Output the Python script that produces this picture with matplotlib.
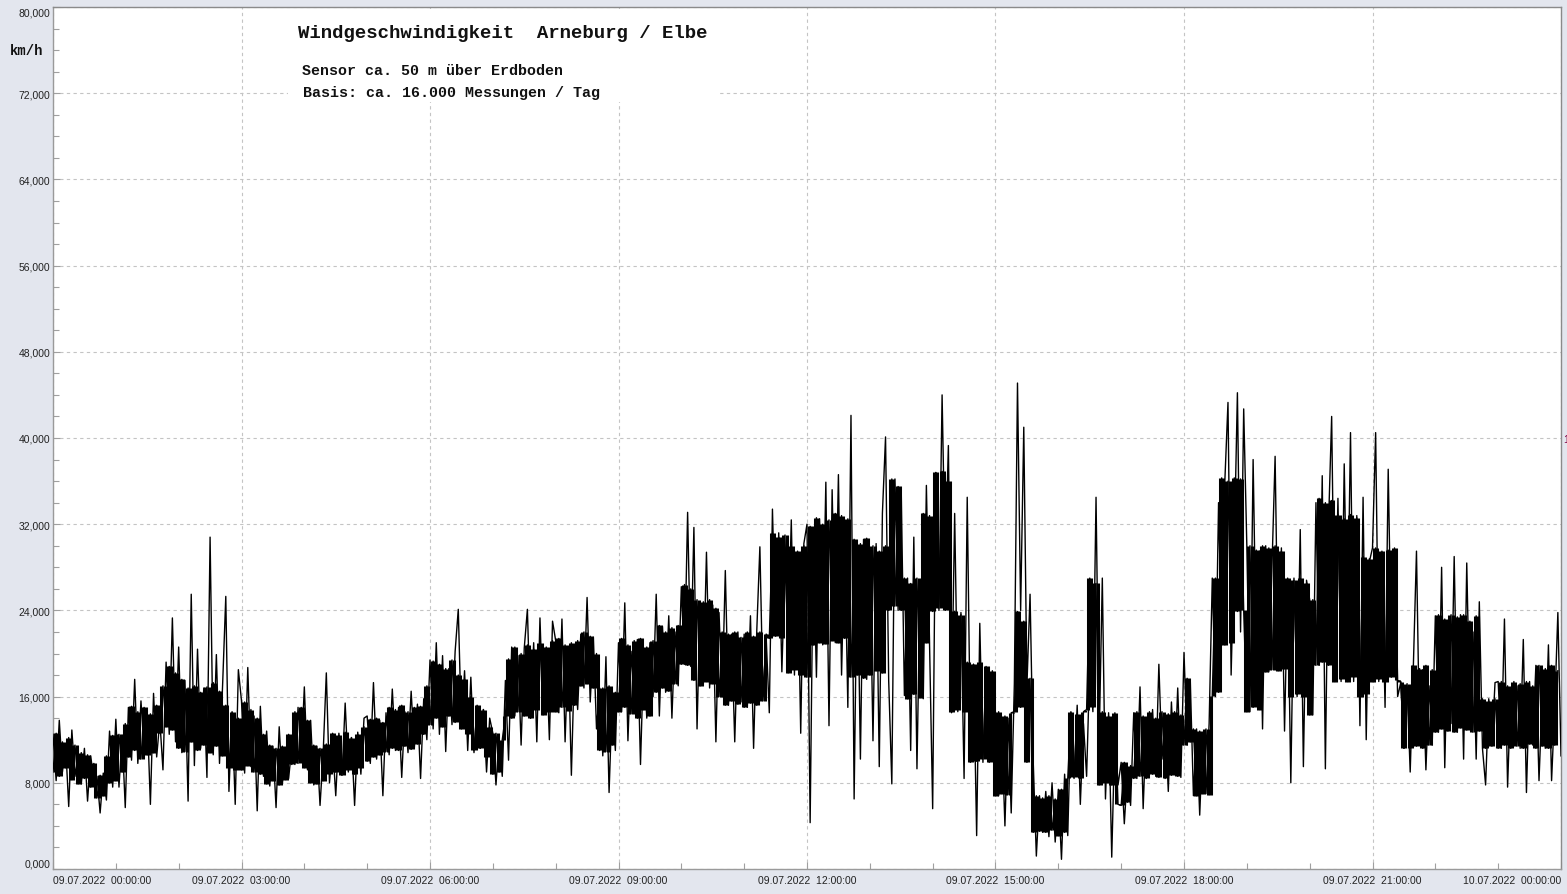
import matplotlib
matplotlib.use("Agg")
import matplotlib.pyplot as plt
import numpy as np
from matplotlib.patches import Rectangle
from matplotlib.ticker import MultipleLocator, FixedLocator

# ---- data: wind speed (km/h), readings every 3 minutes (20 per hour) ----
h00 = [12.5, 8.2, 13.8, 9.0, 11.6, 5.8, 12.9, 8.6, 10.8, 7.9, 11.2, 6.3, 10.5, 8.2, 8.6, 5.2, 8.9, 6.4, 12.8, 7.6]
h01 = [13.9, 7.6, 12.4, 5.7, 15.0, 10.1, 17.6, 9.8, 15.6, 11.0, 14.2, 6.0, 16.3, 10.4, 13.8, 9.2, 19.2, 12.5, 23.3, 11.8]
h02 = [20.6, 10.8, 17.5, 6.3, 25.5, 9.6, 20.4, 11.2, 16.8, 8.5, 30.8, 10.6, 19.9, 9.8, 17.2, 25.3, 7.2, 14.5, 6.0, 18.5]
h03 = [15.6, 8.9, 18.7, 9.5, 14.2, 5.4, 15.1, 8.6, 12.8, 7.7, 11.4, 5.7, 13.2, 7.9, 10.9, 8.4, 11.3, 9.7, 15.0, 10.2]
h04 = [16.9, 9.2, 13.8, 7.8, 11.4, 5.9, 10.8, 18.2, 8.0, 11.6, 6.8, 12.6, 8.7, 15.4, 9.0, 12.2, 5.9, 12.7, 8.8, 14.0]
h05 = [14.2, 9.8, 17.3, 10.2, 13.8, 6.8, 14.5, 10.6, 16.7, 11.0, 15.0, 8.5, 14.6, 10.8, 16.5, 11.2, 15.3, 8.4, 15.8, 12.0]
h06 = [19.4, 13.0, 21.0, 12.5, 19.8, 10.9, 18.6, 13.4, 20.2, 24.1, 13.1, 18.4, 11.0, 17.8, 10.8, 15.1, 11.2, 14.8, 9.0, 14.0]
h07 = [12.6, 7.8, 12.2, 8.6, 17.5, 10.1, 20.6, 14.2, 19.8, 11.5, 20.5, 24.1, 14.0, 21.0, 11.8, 23.3, 14.5, 20.2, 12.0, 23.0]
h08 = [21.2, 14.5, 23.2, 11.8, 20.6, 8.7, 19.5, 14.8, 21.8, 16.8, 25.2, 15.5, 21.5, 13.0, 16.8, 10.5, 19.7, 7.1, 15.8, 11.0]
h09 = [21.0, 14.6, 24.7, 11.9, 20.2, 15.2, 21.3, 9.7, 19.8, 14.0, 21.0, 16.0, 25.5, 14.2, 22.5, 16.4, 23.5, 14.0, 22.0, 17.0]
h10 = [26.2, 19.0, 33.1, 18.8, 31.7, 13.0, 24.8, 17.2, 29.4, 16.8, 24.5, 11.8, 23.8, 16.0, 27.7, 15.2, 21.8, 11.8, 22.0, 15.5]
h11 = [21.8, 15.0, 23.5, 11.2, 22.0, 29.9, 16.0, 21.5, 14.5, 33.4, 22.0, 31.2, 18.3, 28.5, 21.2, 32.4, 18.0, 29.0, 12.6, 30.2]
h12 = [32.0, 4.3, 30.5, 17.8, 32.5, 20.8, 35.9, 13.3, 35.2, 21.0, 36.6, 18.0, 30.8, 15.0, 42.1, 6.5, 29.8, 10.2, 30.6, 17.6]
h13 = [29.5, 11.9, 30.2, 9.5, 33.0, 40.1, 17.5, 7.9, 36.2, 24.0, 35.0, 16.1, 27.0, 11.0, 30.8, 9.3, 26.5, 15.8, 35.6, 21.0]
h14 = [5.6, 36.8, 24.0, 44.0, 28.0, 39.3, 14.5, 33.0, 14.6, 23.8, 8.4, 34.5, 12.0, 19.0, 3.1, 22.8, 9.9, 18.5, 10.2, 17.0]
h15 = [14.5, 6.8, 12.8, 4.0, 14.0, 5.2, 17.2, 45.1, 24.0, 41.0, 17.0, 25.5, 10.0, 1.2, 6.8, 3.4, 7.2, 3.0, 8.0, 2.5]
h16 = [7.4, 0.9, 8.8, 3.1, 14.5, 8.4, 15.2, 6.0, 13.5, 8.6, 19.0, 14.6, 34.5, 12.0, 27.0, 6.5, 14.5, 1.1, 12.8, 7.8]
h17 = [9.9, 4.2, 9.0, 5.9, 14.5, 8.4, 16.9, 5.6, 13.6, 9.0, 14.8, 8.6, 19.0, 10.2, 14.0, 7.2, 15.5, 9.0, 16.8, 8.5]
h18 = [20.1, 11.5, 17.5, 6.8, 13.0, 5.0, 12.5, 7.0, 13.5, 27.0, 16.0, 34.0, 20.8, 36.0, 43.3, 18.0, 30.0, 44.2, 22.0, 42.7]
h19 = [30.0, 14.6, 38.0, 20.0, 29.5, 13.0, 30.0, 18.3, 28.0, 38.3, 18.5, 29.8, 12.8, 26.5, 8.0, 27.0, 16.0, 31.5, 9.5, 26.8]
h20 = [25.0, 14.3, 34.0, 18.9, 36.5, 9.3, 32.0, 42.0, 19.0, 34.4, 17.4, 37.6, 21.0, 40.5, 17.4, 32.8, 13.3, 34.5, 12.0, 28.5]
h21 = [29.8, 40.5, 17.4, 28.0, 15.0, 37.1, 20.0, 29.0, 16.0, 17.3, 11.2, 17.0, 9.0, 18.8, 29.5, 11.5, 18.5, 9.2, 17.0, 11.5]
h22 = [23.5, 12.7, 28.0, 9.4, 22.5, 13.5, 29.0, 12.7, 23.6, 10.2, 28.4, 14.0, 22.0, 10.2, 24.8, 11.2, 7.8, 15.8, 11.5, 17.3]
h23 = [17.4, 11.2, 23.2, 7.6, 16.5, 12.0, 17.0, 11.2, 21.3, 7.1, 17.4, 11.5, 18.9, 8.2, 16.0, 11.2, 20.8, 8.2, 15.0, 23.8]
last_value = [10.5]

# ---- dense core of the readings at the same time stamps (20 per hour) ----
b00 = [9.0, 12.6, 8.6, 11.8, 9.4, 12.2, 8.3, 11.5, 7.9, 10.8, 8.4, 10.6, 7.6, 9.8, 6.6, 8.7, 6.8, 10.5, 8.0, 12.4]
b01 = [8.2, 12.5, 9.0, 13.5, 10.4, 15.1, 11.0, 14.6, 10.2, 15.0, 10.6, 14.4, 10.8, 15.2, 12.6, 17.0, 13.2, 18.8, 12.9, 18.2]
b02 = [11.2, 17.6, 10.9, 16.8, 11.8, 17.0, 11.0, 16.4, 11.5, 16.9, 10.8, 17.3, 11.4, 16.5, 10.5, 15.2, 9.4, 14.6, 9.2, 14.0]
b03 = [9.2, 15.5, 9.6, 14.8, 9.0, 14.0, 8.8, 12.5, 7.9, 11.5, 8.2, 11.2, 7.8, 11.4, 8.3, 12.5, 9.7, 14.6, 9.8, 15.0]
b04 = [9.4, 13.8, 8.0, 11.5, 7.9, 11.2, 8.2, 11.6, 8.8, 12.6, 9.0, 12.4, 8.7, 12.7, 9.2, 12.2, 8.8, 12.5, 9.4, 13.2]
b05 = [10.0, 13.9, 10.4, 14.0, 10.6, 13.6, 10.9, 15.0, 11.2, 14.8, 11.0, 15.2, 11.4, 14.6, 11.1, 15.0, 11.6, 15.1, 12.5, 17.0]
b06 = [13.4, 19.3, 14.0, 19.0, 13.2, 18.6, 14.2, 19.4, 13.6, 18.0, 13.0, 17.6, 12.5, 16.0, 11.0, 15.2, 11.2, 14.8, 10.4, 13.2]
b07 = [8.8, 12.6, 9.0, 12.0, 14.2, 19.5, 14.0, 20.6, 14.6, 20.0, 14.2, 20.8, 14.0, 20.4, 14.8, 21.0, 14.3, 20.6, 14.6, 21.2]
b08 = [14.6, 21.4, 15.0, 20.8, 14.7, 21.0, 15.2, 21.2, 17.0, 22.0, 17.2, 21.6, 16.8, 20.0, 11.0, 16.8, 10.9, 17.0, 11.5, 16.4]
b09 = [14.6, 21.4, 15.0, 20.8, 14.4, 21.2, 14.0, 21.4, 14.8, 20.6, 14.2, 21.2, 16.4, 22.6, 16.8, 22.0, 16.5, 22.4, 17.2, 22.6]
b10 = [19.0, 26.4, 18.9, 26.0, 17.5, 25.0, 17.0, 24.8, 17.4, 25.0, 17.2, 24.2, 16.0, 22.0, 15.2, 21.8, 15.6, 22.0, 15.3, 21.5]
b11 = [15.0, 22.0, 15.4, 21.6, 15.2, 22.0, 15.6, 21.8, 21.4, 31.2, 21.6, 30.8, 21.4, 31.0, 18.2, 30.0, 18.5, 29.5, 18.0, 30.0]
b12 = [17.8, 31.8, 20.8, 32.6, 21.0, 32.0, 20.9, 32.4, 21.2, 33.0, 21.0, 32.8, 21.4, 32.5, 17.8, 30.6, 18.0, 30.2, 17.7, 30.7]
b13 = [18.0, 30.0, 18.4, 29.5, 18.2, 30.0, 24.0, 36.2, 24.4, 35.5, 24.0, 27.0, 15.8, 26.5, 16.2, 27.0, 15.9, 33.0, 21.0, 32.8]
b14 = [23.9, 36.8, 24.2, 36.9, 24.0, 36.0, 14.6, 23.9, 14.8, 23.6, 14.6, 19.2, 9.9, 19.0, 10.0, 19.2, 10.2, 18.8, 9.9, 18.4]
b15 = [6.8, 14.6, 7.0, 14.2, 6.9, 14.5, 14.6, 23.9, 15.0, 23.0, 9.9, 17.7, 3.4, 6.8, 3.5, 6.6, 3.4, 6.8, 3.6, 6.5]
b16 = [3.1, 7.4, 3.4, 8.4, 14.6, 8.5, 14.4, 8.4, 14.6, 14.8, 27.0, 15.0, 26.5, 7.8, 14.6, 8.0, 14.2, 7.8, 14.5, 6.0]
b17 = [5.9, 9.9, 6.2, 9.6, 8.4, 14.6, 8.6, 14.2, 8.4, 14.6, 8.8, 14.0, 8.5, 14.6, 8.4, 14.4, 8.7, 14.6, 8.6, 14.3]
b18 = [11.5, 17.7, 11.8, 13.0, 6.8, 12.8, 7.0, 13.0, 6.9, 16.1, 27.0, 16.4, 36.3, 20.8, 36.0, 21.0, 36.3, 23.9, 36.2, 24.0]
b19 = [14.6, 30.0, 15.0, 29.6, 14.8, 30.0, 18.3, 29.8, 18.5, 30.0, 18.4, 29.5, 18.6, 27.0, 16.0, 26.8, 16.2, 27.0, 16.0, 26.5]
b20 = [14.3, 25.0, 18.9, 34.4, 19.2, 34.0, 18.9, 34.2, 17.4, 32.9, 17.6, 32.5, 17.4, 32.9, 17.8, 32.6, 16.0, 29.0, 16.2, 28.8]
b21 = [17.4, 29.8, 17.6, 29.5, 17.4, 29.6, 17.8, 29.8, 17.5, 17.4, 11.2, 17.2, 11.2, 18.9, 11.4, 18.6, 11.2, 18.9, 11.5, 18.5]
b22 = [12.7, 23.6, 13.0, 23.2, 12.8, 23.6, 12.7, 23.4, 13.1, 23.6, 12.9, 23.0, 12.7, 23.5, 12.8, 15.8, 11.2, 15.6, 11.4, 15.8]
b23 = [11.2, 17.4, 11.5, 17.0, 11.2, 17.4, 11.4, 17.2, 11.2, 17.4, 11.6, 17.0, 11.2, 18.9, 11.4, 18.6, 11.2, 18.9, 11.5, 18.4]

x_tick_labels = ["09.07.2022  00:00:00", "09.07.2022  03:00:00", "09.07.2022  06:00:00",
                 "09.07.2022  09:00:00", "09.07.2022  12:00:00", "09.07.2022  15:00:00",
                 "09.07.2022  18:00:00", "09.07.2022  21:00:00", "10.07.2022  00:00:00"]
title = "Windgeschwindigkeit  Arneburg / Elbe"
subtitle1 = "Sensor ca. 50 m über Erdboden"
subtitle2 = "Basis: ca. 16.000 Messungen / Tag"
y_unit = "km/h"

samples_per_hour = 20
series_a = np.concatenate([np.asarray(h, dtype=float) for h in
                           [h00, h01, h02, h03, h04, h05, h06, h07, h08, h09, h10, h11,
                            h12, h13, h14, h15, h16, h17, h18, h19, h20, h21, h22, h23,
                            last_value]])
series_b = np.concatenate([np.asarray(h, dtype=float) for h in
                           [b00, b01, b02, b03, b04, b05, b06, b07, b08, b09, b10, b11,
                            b12, b13, b14, b15, b16, b17, b18, b19, b20, b21, b22, b23]])
t_a = np.arange(len(series_a)) / samples_per_hour
t_b = np.arange(len(series_b)) / samples_per_hour

# min/max of the core readings within each 3-minute step (drawn as vertical strokes)
step_lo = np.minimum(series_b[:-1], series_b[1:])
step_hi = np.maximum(series_b[:-1], series_b[1:])
t_step = (t_b[:-1] + t_b[1:]) / 2

W, H = 1567, 895
fig = plt.figure(figsize=(W / 100, H / 100), dpi=100, facecolor="#E3E6EE")
ax = fig.add_axes([53 / W, 1 - 870 / H, (1561 - 53) / W, (870 - 8) / H])
ax.set_facecolor("white")

ax.vlines(t_step, step_lo, step_hi, color="black", lw=2.2, zorder=3)
ax.plot(t_b, series_b, color="black", lw=1.0, zorder=3)
ax.plot(t_a, series_a, color="black", lw=1.0, zorder=3)

ax.set_xlim(0, 24)
ax.set_ylim(0, 80)
ax.xaxis.set_major_locator(FixedLocator(np.arange(0, 25, 3)))
ax.xaxis.set_minor_locator(MultipleLocator(1))
ax.yaxis.set_major_locator(FixedLocator(np.arange(0, 81, 8)))
ax.yaxis.set_minor_locator(MultipleLocator(2))

ax.grid(which="major", color="#C4C4C4", linestyle=(0, (3, 3)), linewidth=0.8, zorder=0)
ax.tick_params(which="both", direction="in", color="#A0A0A0", width=0.8)
ax.tick_params(which="major", length=5)
ax.tick_params(which="minor", length=4)
ax.tick_params(axis="y", pad=2, labelsize=7.5, labelcolor="#222222")
ax.tick_params(axis="x", pad=4, labelsize=7.5, labelcolor="#222222")

ax.set_xticklabels(x_tick_labels, fontfamily="Liberation Sans")
xl = ax.get_xticklabels()
xl[0].set_horizontalalignment("left")
xl[-1].set_horizontalalignment("right")

yvals = np.arange(0, 81, 8)
ax.set_yticklabels([f"{v:.3f}".replace(".", ",") for v in yvals], fontfamily="Liberation Sans")
yl = ax.get_yticklabels()
yl[0].set_verticalalignment("bottom")
yl[-1].set_verticalalignment("top")

for s in ["left", "bottom"]:
    ax.spines[s].set_color("#9A9A9A")
for s in ["top", "right"]:
    ax.spines[s].set_color("#8A8A8A")
for s in ax.spines.values():
    s.set_linewidth(1.0)

# white box behind the title block
fig.patches.append(Rectangle((288 / W, 1 - 103 / H), (720 - 288) / W, (103 - 10) / H,
                             transform=fig.transFigure, facecolor="white",
                             edgecolor="none", zorder=1))

fig.text(298 / W, 1 - 34 / H, title, fontfamily="Liberation Mono", fontweight="bold",
         fontsize=13.7, va="center", ha="left", color="#111111", zorder=3)
fig.text(302 / W, 1 - 71 / H, subtitle1, fontfamily="Liberation Mono", fontweight="bold",
         fontsize=10.8, va="center", ha="left", color="#111111", zorder=3)
fig.text(303 / W, 1 - 93 / H, subtitle2, fontfamily="Liberation Mono", fontweight="bold",
         fontsize=10.8, va="center", ha="left", color="#111111", zorder=3)
fig.text(10 / W, 1 - 51 / H, y_unit, fontfamily="Liberation Mono", fontweight="bold",
         fontsize=10, va="center", ha="left", color="#111111")
fig.text(1563 / W, 1 - 440 / H, "1", fontfamily="Liberation Sans", fontsize=7.5,
         va="center", ha="left", color="#800040")

fig.savefig("out.png", dpi=100, facecolor=fig.get_facecolor())
